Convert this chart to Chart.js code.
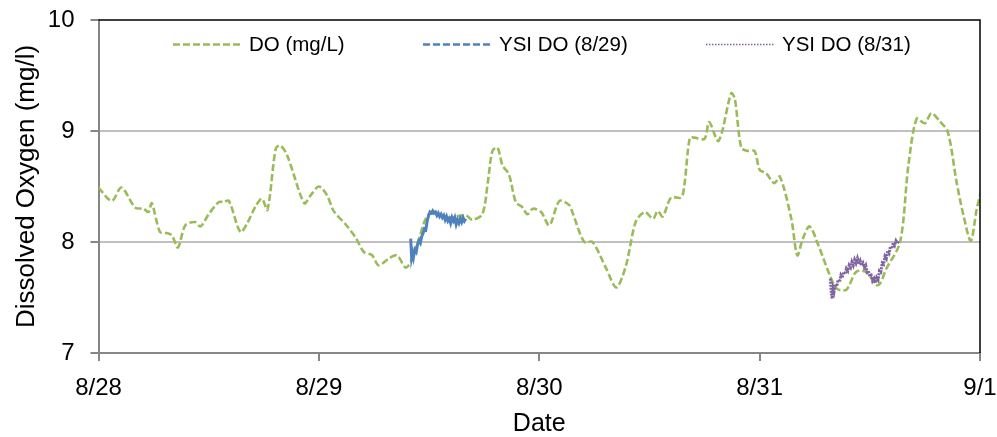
<!DOCTYPE html>
<html>
<head>
<meta charset="utf-8">
<script src="https://cdn.jsdelivr.net/npm/chart.js@4/dist/chart.umd.min.js"></script>
<style>
  html, body { margin: 0; padding: 0; background: #fff; }
  #wrap { width: 997px; height: 437px; position: relative; }
</style>
</head>
<body>
<div id="wrap"><canvas id="chart"></canvas></div>
<script>
// ── Data (x in hours since 8/28 00:00) ───────────────────────────────────────
const dateTicks = ['8/28', '8/29', '8/30', '8/31', '9/1']

const doHours = [
  0, 1.45, 2.5, 4.0, 4.9, 5.45, 5.8, 6.7, 7.45, 8.0, 8.65, 9.45, 10.5, 11.1, 12.0,
  13.1, 13.6, 14.2, 15.45, 16.2, 17.1, 17.8, 18.4, 19.3, 19.8, 20.55, 22.4, 23.1,
  24.0, 24.9, 25.6, 26.9, 28.0, 28.9, 29.8, 30.5, 31.6, 32.5, 33.45, 34.0, 34.9,
  36.0, 38.0, 40.0, 40.7, 41.8, 42.4, 42.9, 43.45, 44.0, 44.7, 45.45, 46.2, 46.7,
  47.3, 48.2, 49.1, 50.2, 51.3, 51.6, 52.9, 53.8, 55.3, 56.4, 57.45, 58.5, 59.5,
  60.4, 60.9, 61.45, 62.35, 63.45, 63.8, 64.4, 64.9, 66.0, 66.5, 67.45, 67.9, 68.9,
  69.3, 70.0, 70.7, 71.45, 72.0, 72.7, 73.6, 74.2, 75.45, 76.1, 76.7, 77.45, 78.4,
  79.6, 80.4, 81.45, 82.5, 83.6, 84.9, 85.8, 87.3, 88.2, 89.1, 90.0, 90.7, 91.6,
  92.5, 93.45, 94.2, 95.0, 95.65, 96.2,
]
const doValues = [
  8.49, 8.37, 8.49, 8.31, 8.30, 8.27, 8.35, 8.09, 8.08, 8.06, 7.95, 8.15, 8.18, 8.14, 8.25,
  8.36, 8.36, 8.37, 8.09, 8.17, 8.32, 8.39, 8.29, 8.84, 8.87, 8.78, 8.35, 8.42,
  8.50, 8.42, 8.28, 8.16, 8.04, 7.91, 7.88, 7.79, 7.85, 7.88, 7.77, 7.82, 8.03,
  8.25, 8.22, 8.24, 8.20, 8.25, 8.54, 8.82, 8.85, 8.69, 8.61, 8.36, 8.31, 8.25,
  8.30, 8.27, 8.15, 8.37, 8.33, 8.27, 8.00, 8.00, 7.76, 7.59, 7.79, 8.18, 8.27,
  8.21, 8.28, 8.23, 8.40, 8.40, 8.51, 8.94, 8.94, 8.93, 9.08, 8.91, 8.99, 9.34,
  9.29, 8.85, 8.82, 8.82, 8.65, 8.62, 8.53, 8.59, 8.21, 7.88, 8.03, 8.14, 7.97,
  7.71, 7.58, 7.57, 7.73, 7.73, 7.61, 7.76, 8.00, 8.69, 9.11, 9.07, 9.16, 9.09,
  8.99, 8.54, 8.24, 8.01, 8.30, 8.48,
]

const ysi829Hours = [
  34.0, 34.1, 34.2, 34.3, 34.45, 34.6, 34.75, 34.9, 35.05, 35.2, 35.35, 35.5, 35.65,
  35.8, 35.95, 36.1, 36.25, 36.4, 36.55, 36.7, 36.85, 37.0, 37.15, 37.3, 37.45, 37.6,
  37.75, 37.9, 38.05, 38.2, 38.35, 38.5, 38.65, 38.8, 38.95, 39.1, 39.25, 39.4, 39.55,
  39.7, 39.85, 40.0,
]
const ysi829Values = [
  8.03, 7.86, 7.90, 7.86, 7.93, 7.91, 7.98, 8.01, 7.99, 8.05, 8.08, 8.12, 8.11,
  8.19, 8.24, 8.27, 8.26, 8.28, 8.26, 8.27, 8.24, 8.26, 8.23, 8.25, 8.22, 8.24,
  8.20, 8.23, 8.19, 8.21, 8.17, 8.22, 8.19, 8.22, 8.16, 8.20, 8.17, 8.21, 8.18,
  8.22, 8.19, 8.21,
]

const ysi831Hours = [
  79.7, 79.8, 79.9, 80.0, 80.1, 80.25, 80.4, 80.55, 80.7, 80.85, 81.0, 81.15, 81.3,
  81.45, 81.6, 81.75, 81.9, 82.05, 82.2, 82.35, 82.5, 82.65, 82.8, 82.95, 83.1, 83.25,
  83.4, 83.55, 83.7, 83.85, 84.0, 84.15, 84.3, 84.45, 84.6, 84.75, 84.9, 85.05, 85.2,
  85.35, 85.5, 85.65, 85.8, 85.95, 86.1, 86.25, 86.4, 86.55, 86.7, 86.85, 87.0, 87.2,
]
const ysi831Values = [
  7.67, 7.55, 7.49, 7.58, 7.55, 7.62, 7.60, 7.66, 7.64, 7.70, 7.68, 7.73, 7.71,
  7.76, 7.74, 7.79, 7.77, 7.82, 7.79, 7.84, 7.81, 7.85, 7.80, 7.83, 7.79, 7.81,
  7.77, 7.79, 7.73, 7.74, 7.69, 7.70, 7.65, 7.67, 7.63, 7.68, 7.66, 7.74, 7.73,
  7.81, 7.80, 7.87, 7.85, 7.92, 7.90, 7.96, 7.94, 7.99, 7.97, 8.01, 7.99, 8.01,
]

// ── Styling ──────────────────────────────────────────────────────────────────
const FONT = '"Liberation Sans", Arial, sans-serif'
const AXIS_GREY = '#868686'
const GRID_GREY = '#c0c0c0'

const zip = (xs, ys) => xs.map((x, i) => ({ x, y: ys[i] }))

const datasets = [
  {
    label: 'DO (mg/L)',
    data: zip(doHours, doValues),
    borderColor: '#9bbb59',
    borderWidth: 2.6,
    borderDash: [7, 3],
    tension: 0.3,
    order: 3,
    legendX: 173, legendDash: [7, 3], legendWidth: 2.6,
  },
  {
    label: 'YSI DO (8/29)',
    data: zip(ysi829Hours, ysi829Values),
    borderColor: '#4f81bd',
    borderWidth: 3,
    tension: 0,
    order: 2,
    legendX: 423, legendDash: [7, 3], legendWidth: 2.6,
  },
  {
    label: 'YSI DO (8/31)',
    data: zip(ysi831Hours, ysi831Values),
    borderColor: '#8064a2',
    borderWidth: 3,
    borderDash: [2, 1],
    tension: 0,
    order: 1,
    legendX: 706, legendDash: [1.5, 1.5], legendWidth: 1.5,
  },
]

// Inline legend sitting inside the plot area, plus black top/right frame
const frameAndLegend = {
  id: 'frameAndLegend',
  afterDraw(chart) {
    const { ctx, chartArea: a } = chart
    ctx.save()
    ctx.strokeStyle = '#000'
    ctx.lineWidth = 1.5
    ctx.beginPath()
    ctx.moveTo(a.left, a.top)
    ctx.lineTo(a.right, a.top)
    ctx.lineTo(a.right, a.bottom)
    ctx.stroke()

    const y = 44.5
    ctx.font = '20.5px ' + FONT
    ctx.textBaseline = 'middle'
    ctx.fillStyle = '#000'
    chart.data.datasets.forEach(ds => {
      ctx.strokeStyle = ds.borderColor
      ctx.lineWidth = ds.legendWidth
      ctx.setLineDash(ds.legendDash)
      ctx.beginPath()
      ctx.moveTo(ds.legendX, y)
      ctx.lineTo(ds.legendX + 69, y)
      ctx.stroke()
      ctx.setLineDash([])
      ctx.fillText(ds.label, ds.legendX + 76, y + 1)
    })
    ctx.restore()
  },
}

new Chart(document.getElementById('chart'), {
  type: 'line',
  data: { datasets },
  options: {
    responsive: true,
    maintainAspectRatio: false,
    animation: false,
    devicePixelRatio: 1,
    layout: { padding: { top: 20, right: 17, bottom: 0, left: 0 } },
    elements: { point: { radius: 0 } },
    plugins: { legend: { display: false }, tooltip: { enabled: false } },
    scales: {
      x: {
        type: 'linear',
        min: 0, max: 96,
        afterFit: s => { s.height = 84; s.paddingLeft = 0; s.paddingRight = 0 },
        border: { display: true, color: AXIS_GREY, width: 2 },
        grid: { drawOnChartArea: false, drawTicks: true, tickLength: 8, color: AXIS_GREY, lineWidth: 2 },
        ticks: {
          stepSize: 24, padding: 13, color: '#000',
          font: { family: FONT, size: 24 },
          maxRotation: 0,
          callback: v => dateTicks[v / 24] ?? '',
        },
        title: { display: true, text: 'Date', color: '#000', font: { family: FONT, size: 25, lineHeight: 1 }, padding: { top: 0, bottom: 0 } },
      },
      y: {
        min: 7, max: 10,
        afterFit: s => { s.width = 98.5; s.paddingTop = 0; s.paddingBottom = 0 },
        border: { display: true, color: AXIS_GREY, width: 2 },
        grid: {
          color: c => (c.tick && (c.tick.value === 10 || c.tick.value === 7)) ? 'rgba(0,0,0,0)' : GRID_GREY,
          tickColor: AXIS_GREY,
          lineWidth: 2, tickLength: 8,
        },
        ticks: { stepSize: 1, padding: 16, color: '#000', font: { family: FONT, size: 24 } },
        title: { display: true, text: 'Dissolved Oxygen (mg/l)', color: '#000', font: { family: FONT, size: 26 }, padding: { top: 11, bottom: 0 } },
      },
    },
  },
  plugins: [frameAndLegend],
})
</script>
</body>
</html>
